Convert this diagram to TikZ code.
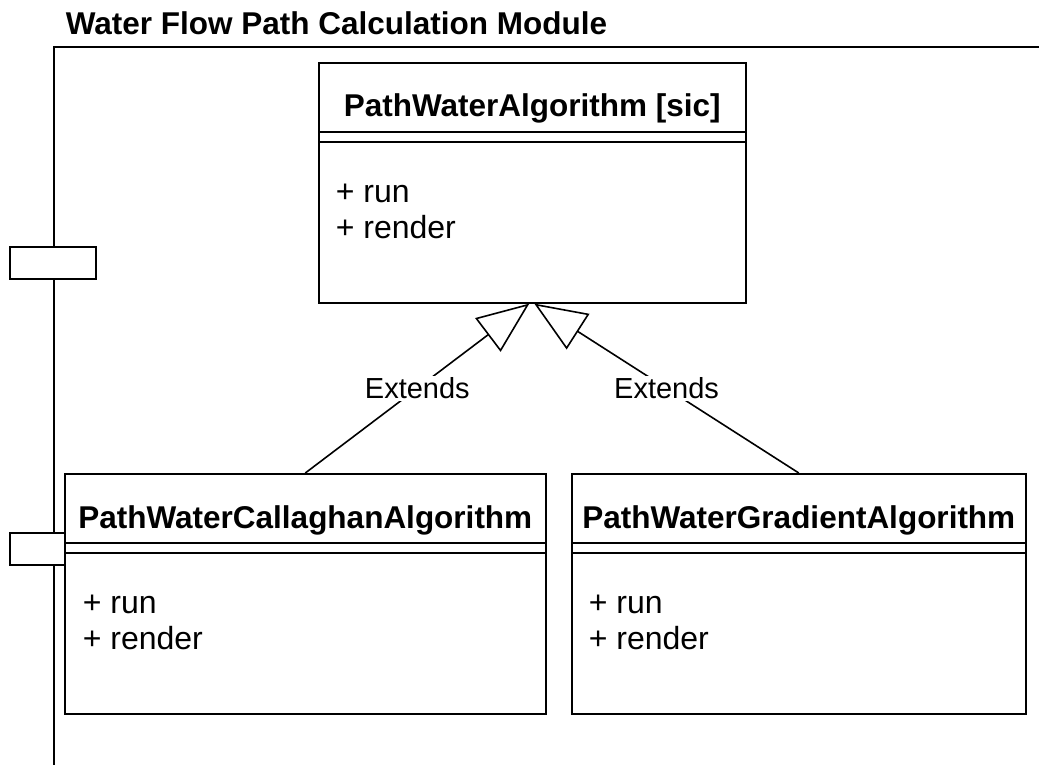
\documentclass[tikz,border=0pt]{standalone}
\usepackage{fontspec}
\setmainfont{Liberation Sans}
\usetikzlibrary{arrows.meta}

\tikzset{
  umlclass/.style={draw, line width=1.6pt, fill=white, anchor=north west,
    inner sep=0pt, minimum height=240pt},
  port/.style={draw, line width=1.6pt, fill=white, inner sep=0pt,
    minimum width=86pt, minimum height=32pt},
  classname/.style={anchor=base, inner sep=0pt,
    font=\fontsize{31.5}{37}\selectfont\bfseries},
  member/.style={anchor=base west, inner sep=0pt,
    font=\fontsize{32}{38}\selectfont},
  extends/.style={line width=1.6pt,
    -{Triangle[open, length=52pt, width=42pt, line width=1.6pt]}},
  extlabel/.style={fill=white, inner sep=2pt,
    font=\fontsize{29}{35}\selectfont},
}

\begin{document}
\begin{tikzpicture}[x=1pt, y=-1pt, line width=1.6pt]
\useasboundingbox (0,0) rectangle (1039,764);

% package frame and its title
\node[anchor=base west, inner sep=0pt, font=\fontsize{31.5}{37}\selectfont\bfseries]
  (moduleTitle) at (65,34) {Water Flow Path Calculation Module};
\coordinate (frameTR) at (1045,47);
\coordinate (frameTL) at (54,47);
\coordinate (frameBL) at (54,770);
\draw (frameTR) -- (frameTL) -- (frameBL);

% ports on the frame edge
\node[port] (portA) at (53,263) {};
\node[port] (portB) at (53,549) {};

% classes
\node[umlclass, minimum width=427pt] (base) at (318,62) {};
\node[umlclass, minimum width=481pt] (cal) at (64,473) {};
\node[umlclass, minimum width=454pt] (grad) at (571,473) {};

\foreach \c in {base, cal, grad} {
  \draw ([yshift=-70pt]\c.north west) -- ([yshift=-70pt]\c.north east);
  \draw ([yshift=-80pt]\c.north west) -- ([yshift=-80pt]\c.north east);
}

\node[classname] (baseName) at ([yshift=-54pt]base.north) {PathWaterAlgorithm [sic]};
\node[member] (baseRun) at ([xshift=17pt, yshift=-140pt]base.north west) {+ run};
\node[member] (baseRender) at ([xshift=17pt, yshift=-176pt]base.north west) {+ render};

\node[classname] (calName) at ([yshift=-55pt]cal.north) {PathWaterCallaghanAlgorithm};
\node[member] (calRun) at ([xshift=18pt, yshift=-140pt]cal.north west) {+ run};
\node[member] (calRender) at ([xshift=18pt, yshift=-176pt]cal.north west) {+ render};

\node[classname] (gradName) at ([yshift=-55pt]grad.north) {PathWaterGradientAlgorithm};
\node[member] (gradRun) at ([xshift=17pt, yshift=-140pt]grad.north west) {+ run};
\node[member] (gradRender) at ([xshift=17pt, yshift=-176pt]grad.north west) {+ render};

% generalisations
\draw[extends] (cal.north) -- node[extlabel] (extL) {Extends} ([xshift=-3pt]base.south);
\draw[extends] (grad.north) -- node[extlabel] (extR) {Extends} ([xshift=2pt]base.south);
\end{tikzpicture}
\end{document}
